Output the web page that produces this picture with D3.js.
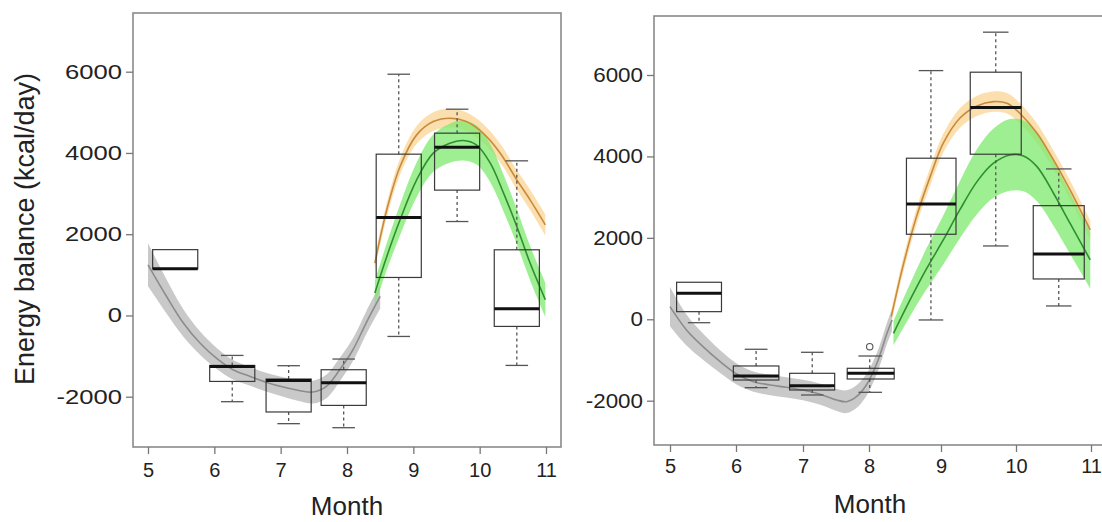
<!DOCTYPE html>
<html>
<head>
<meta charset="utf-8">
<script src="https://cdn.jsdelivr.net/npm/d3@7"></script>
<style>
  body { margin: 0; background: #fff; }
  svg { display: block; }
  text { font-family: "Liberation Sans", Arial, sans-serif; fill: #222; }
</style>
</head>
<body>
<div id="chart"></div>
<script>
// ---- data ----
const monthTicks = [5, 6, 7, 8, 9, 10, 11]
const yTicks = [-2000, 0, 2000, 4000, 6000]

// left panel boxplots
const leftBoxPos = [5.41, 6.27, 7.12, 7.95, 8.78, 9.66, 10.56]
const leftQ1 = [1150, -1624, -2376, -2214, 935, 3085, -270]
const leftMed = [1150, -1255, -1599, -1656, 2411, 4143, 165]
const leftQ3 = [1620, -1230, -1565, -1336, 3970, 4487, 1616]
const leftLo = [1150, -2123, -2664, -2763, -517, 2312, -1230]
const leftHi = [1620, -984, -1237, -1073, 5938, 5077, 3806]

// left panel fits
const leftGrayX = [5.0, 5.28, 5.53, 5.78, 6.04, 6.28, 6.54, 6.79, 7.04, 7.29, 7.49, 7.69, 7.89, 8.09, 8.29, 8.5]
const leftGrayY = [1247, 467, -180, -672, -1065, -1336, -1500, -1648, -1762, -1852, -1885, -1746, -1336, -844, -180, 467]
const leftGrayCI = [530, 420, 340, 290, 260, 240, 230, 230, 240, 260, 280, 290, 290, 280, 280, 300]

const leftOrangeX = [8.42, 8.6, 8.8, 9.05, 9.3, 9.55, 9.8, 10.05, 10.31, 10.56, 10.76, 10.99]
const leftOrangeY = [1289, 2600, 3665, 4445, 4772, 4856, 4772, 4487, 3995, 3338, 2846, 2231]
const leftOrangeCI = [150, 180, 200, 220, 230, 230, 230, 230, 230, 240, 250, 260]

const leftGreenX = [8.42, 8.6, 8.8, 9.05, 9.3, 9.55, 9.75, 9.95, 10.16, 10.36, 10.56, 10.76, 10.99]
const leftGreenY = [551, 1452, 2354, 3338, 3995, 4241, 4305, 4199, 3749, 3011, 2190, 1289, 386]
const leftGreenCI = [300, 330, 380, 430, 460, 480, 490, 480, 470, 450, 430, 420, 420]

// right panel boxplots
const rightBoxPos = [5.44, 6.30, 7.14, 8.01, 8.86, 9.73, 10.57]
const rightQ1 = [187, -1492, -1737, -1467, 2088, 4054, 990]
const rightMed = [639, -1393, -1631, -1327, 2833, 5199, 1604]
const rightQ3 = [909, -1147, -1327, -1204, 3956, 6069, 2791]
const rightLo = [-84, -1680, -1860, -1794, -17, 1801, 327]
const rightHi = [909, -737, -811, -902, 6108, 7052, 3693]
const rightOutliers = [[8.01, -673]]

// right panel fits
const rightGrayX = [5.0, 5.25, 5.5, 5.76, 6.01, 6.26, 6.51, 6.75, 7.0, 7.25, 7.51, 7.66, 7.81, 7.96, 8.11, 8.25, 8.32]
const rightGrayY = [310, -263, -672, -1041, -1344, -1532, -1614, -1671, -1737, -1835, -1983, -2024, -1901, -1614, -1081, -344, -17]
const rightGrayCI = [480, 380, 320, 280, 260, 250, 250, 250, 250, 260, 270, 280, 280, 270, 260, 260, 270]

const rightOrangeX = [8.31, 8.47, 8.66, 8.85, 9.03, 9.25, 9.48, 9.7, 9.88, 10.05, 10.28, 10.5, 10.72, 10.99]
const rightOrangeY = [64, 1292, 2521, 3504, 4324, 4939, 5241, 5347, 5307, 5061, 4570, 3914, 3177, 2194]
const rightOrangeCI = [150, 180, 200, 220, 230, 240, 250, 250, 250, 250, 240, 230, 230, 240]

const rightGreenX = [8.34, 8.57, 8.79, 9.03, 9.25, 9.48, 9.7, 9.92, 10.1, 10.28, 10.5, 10.72, 10.99]
const rightGreenY = [-344, 474, 1211, 1948, 2685, 3381, 3833, 4037, 4012, 3749, 3096, 2359, 1457]
const rightGreenCI = [300, 400, 500, 600, 700, 800, 850, 880, 870, 850, 800, 750, 700]

const boxWidth = 0.68

// ---- drawing ----
const width = 1102
const height = 522

const svg = d3.select("#chart")
    .append("svg")
    .attr("width", width)
    .attr("height", height)

function makeFit(xs, ys, ci) {
    return xs.map((x, i) => ({ x: x, y: ys[i], lo: ys[i] - ci[i], hi: ys[i] + ci[i] }))
}

function makeBoxes(pos, q1, med, q3, lo, hi) {
    return pos.map((p, i) => ({ pos: p, q1: q1[i], med: med[i], q3: q3[i], lo: lo[i], hi: hi[i] }))
}

function drawPanel(p) {
    const g = svg.append("g")
    const x = p.x
    const y = p.y

    // frame
    g.append("rect")
        .attr("x", p.frame[0]).attr("y", p.frame[1])
        .attr("width", p.frame[2] - p.frame[0]).attr("height", p.frame[3] - p.frame[1])
        .style("fill", "none")
        .style("stroke", "#8a8a8a")
        .style("stroke-width", "1.6px")

    // axes
    const yAxis = g.append("g").attr("transform", "translate(" + p.frame[0] + ",0)")
        .call(d3.axisLeft(y).tickValues(yTicks).tickSize(7).tickFormat(d => String(d)))
    const xAxis = g.append("g").attr("transform", "translate(0," + p.frame[3] + ")")
        .call(d3.axisBottom(x).tickValues(monthTicks).tickSize(7).tickPadding(p.xPad).tickFormat(d => String(d)))
    ;[xAxis, yAxis].forEach(a => {
        a.select(".domain").remove()
        a.selectAll(".tick line").style("stroke", "#777").style("stroke-width", "1.3px")
        a.selectAll(".tick text").style("font-size", "20px").style("fill", "#222")
            .style("font-family", '"Liberation Sans", Arial, sans-serif')
    })
    // the y labels in the figure are drawn a little wider than the x labels
    yAxis.selectAll(".tick text")
        .attr("x", 0)
        .attr("transform", "translate(-11,0) scale(" + p.yStretch + ",1)")

    const area = d3.area().curve(d3.curveCatmullRom)
        .x(d => x(d.x)).y0(d => y(d.lo)).y1(d => y(d.hi))
    const line = d3.line().curve(d3.curveCatmullRom)
        .x(d => x(d.x)).y(d => y(d.y))

    const fits = [
        { data: p.gray, band: "#c9c9c9", col: "#8c8c8c", op: 1 },
        { data: p.orange, band: "#f8c978", col: "#c98a3c", op: 0.6 },
        { data: p.green, band: "#7eea6e", col: "#2f8f2f", op: 0.75 }
    ]
    fits.forEach(f => {
        g.append("path").datum(f.data).attr("d", area)
            .style("fill", f.band).style("fill-opacity", f.op).style("stroke", "none")
    })
    fits.forEach(f => {
        g.append("path").datum(f.data).attr("d", line)
            .style("fill", "none").style("stroke", f.col).style("stroke-width", "1.6px")
    })

    // boxplots
    const bw = boxWidth
    const boxes = g.selectAll(".box").data(p.boxes).enter().append("g").attr("class", "box")
    boxes.filter(d => d.hi > d.q3).append("line")
        .attr("x1", d => x(d.pos)).attr("x2", d => x(d.pos))
        .attr("y1", d => y(d.q3)).attr("y2", d => y(d.hi))
        .style("stroke", "#555").style("stroke-dasharray", "3,3").style("stroke-width", "1.3px")
    boxes.filter(d => d.lo < d.q1).append("line")
        .attr("x1", d => x(d.pos)).attr("x2", d => x(d.pos))
        .attr("y1", d => y(d.q1)).attr("y2", d => y(d.lo))
        .style("stroke", "#555").style("stroke-dasharray", "3,3").style("stroke-width", "1.3px")
    boxes.filter(d => d.hi > d.q3).append("line")
        .attr("x1", d => x(d.pos - bw / 4)).attr("x2", d => x(d.pos + bw / 4))
        .attr("y1", d => y(d.hi)).attr("y2", d => y(d.hi))
        .style("stroke", "#555").style("stroke-width", "1.3px")
    boxes.filter(d => d.lo < d.q1).append("line")
        .attr("x1", d => x(d.pos - bw / 4)).attr("x2", d => x(d.pos + bw / 4))
        .attr("y1", d => y(d.lo)).attr("y2", d => y(d.lo))
        .style("stroke", "#555").style("stroke-width", "1.3px")
    boxes.append("rect")
        .attr("x", d => x(d.pos - bw / 2))
        .attr("width", d => x(d.pos + bw / 2) - x(d.pos - bw / 2))
        .attr("y", d => y(d.q3))
        .attr("height", d => y(d.q1) - y(d.q3))
        .style("fill", "none").style("stroke", "#3a3a3a").style("stroke-width", "1.2px")
    boxes.append("line")
        .attr("x1", d => x(d.pos - bw / 2)).attr("x2", d => x(d.pos + bw / 2))
        .attr("y1", d => y(d.med)).attr("y2", d => y(d.med))
        .style("stroke", "#111").style("stroke-width", "3px")

    g.selectAll(".outlier").data(p.outliers).enter().append("circle")
        .attr("cx", d => x(d[0])).attr("cy", d => y(d[1])).attr("r", 3.2)
        .style("fill", "none").style("stroke", "#555").style("stroke-width", "1.1px")

    // titles
    g.append("text")
        .attr("x", p.monthPos[0]).attr("y", p.monthPos[1])
        .attr("text-anchor", "middle")
        .style("font-size", "26px")
        .text("Month")
}

const leftPanel = {
    x: d3.scaleLinear().domain([5, 11]).range([148, 546]),
    y: d3.scaleLinear().domain([-2000, 6000]).range([396.7, 71.7]),
    frame: [133, 13, 561, 447],
    xPad: 9,
    yStretch: 1.28,
    monthPos: [347, 515],
    gray: makeFit(leftGrayX, leftGrayY, leftGrayCI),
    orange: makeFit(leftOrangeX, leftOrangeY, leftOrangeCI),
    green: makeFit(leftGreenX, leftGreenY, leftGreenCI),
    boxes: makeBoxes(leftBoxPos, leftQ1, leftMed, leftQ3, leftLo, leftHi),
    outliers: []
}

const rightPanel = {
    x: d3.scaleLinear().domain(monthTicks).range([670, 736, 803, 869, 941, 1016, 1091]),
    y: d3.scaleLinear().domain([-2000, 6000]).range([400.7, 75]),
    frame: [654, 16, 1110, 445],
    xPad: 7,
    yStretch: 1.12,
    monthPos: [870, 513],
    gray: makeFit(rightGrayX, rightGrayY, rightGrayCI),
    orange: makeFit(rightOrangeX, rightOrangeY, rightOrangeCI),
    green: makeFit(rightGreenX, rightGreenY, rightGreenCI),
    boxes: makeBoxes(rightBoxPos, rightQ1, rightMed, rightQ3, rightLo, rightHi),
    outliers: rightOutliers
}

drawPanel(leftPanel)
drawPanel(rightPanel)

svg.append("text")
    .attr("transform", "translate(34,229) rotate(-90)")
    .attr("text-anchor", "middle")
    .style("font-size", "27px")
    .text("Energy balance (kcal/day)")
</script>
</body>
</html>
